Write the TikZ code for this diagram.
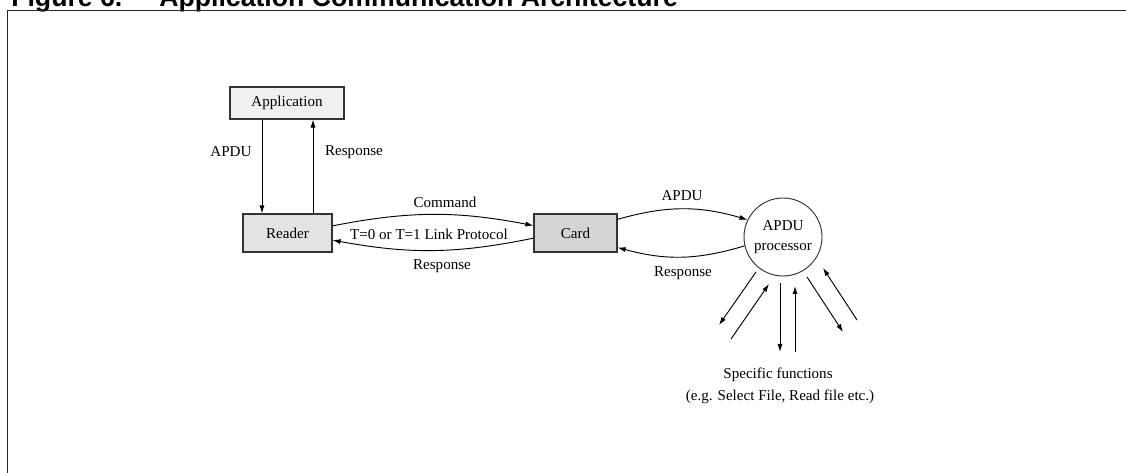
\documentclass[tikz,border=0pt]{standalone}
\usepackage{fontspec}
\setmainfont{Liberation Serif}
\newfontfamily\headfont{Liberation Sans}
\usetikzlibrary{positioning,arrows.meta,calc}

\begin{document}
\begin{tikzpicture}[x=0.75pt,y=-0.75pt,
    >={Latex[length=6pt,width=3.8pt]},
    lbl/.style={font=\fontsize{11.3}{13}\selectfont,inner sep=0pt},
    box/.style={lbl,draw=black!80,line width=0.9pt,minimum height=28.5pt},
    head/.style={anchor=base west,inner sep=0pt,font=\headfont\bfseries\fontsize{20}{22}\selectfont},
    link/.style={->,line width=0.7pt}]
  \useasboundingbox (0,0) rectangle (1126,473);
  \begin{scope}
    \clip (0,0) rectangle (1126,473);
    \node[head] (fig) at (11,7) {Figure 6.};
    \node[head] (title) at (159,7) {Application Communication Architecture};
  \end{scope}
  \draw[line width=1.1pt,black!85] (7.5,473) -- (7.5,10.5) -- (1126,10.5);

  \node[box,fill=black!6,minimum width=85.5pt,minimum height=24pt] (app) at (287,103) {Application};
  \node[box,fill=black!11,minimum width=66.75pt] (reader) at (287.5,233) {Reader};
  \node[box,fill=black!17,minimum width=62.25pt] (card) at (575.5,233) {Card};
  \node[circle,draw=black!80,line width=0.7pt,minimum size=58.5pt,inner sep=0pt,align=center,
        font=\fontsize{11.3}{15}\selectfont] (proc) at (783,237) {APDU\\processor};

  \draw[link] ($(app.south)+(-25,0)$) -- ($(reader.north)+(-25.5,0)$);
  \draw[link] ($(reader.north)+(25.5,0)$) -- ($(app.south)+(26,0)$);
  \node[lbl] (apduA) at (231,152) {APDU};
  \node[lbl] (respA) at (354,152) {Response};

  \draw[link] (reader.9) to[bend left=11] (card.170);
  \draw[link] (card.187) to[bend left=11] (reader.351);
  \node[lbl] (cmd) at (445,202) {Command};
  \node[lbl] (proto) at (429,234) {T=0 or T=1 Link Protocol};
  \node[lbl] (respB) at (442,266) {Response};

  \draw[link] (card.18) to[bend left=16] (proc.154);
  \draw[link] (proc.193) to[bend left=16] (card.341);
  \node[lbl] (apduB) at (682,196) {APDU};
  \node[lbl] (respC) at (683,273) {Response};

  \coordinate (a1) at ($(proc.center)+(-27,35)$);
  \coordinate (f1) at ($(proc.center)+(-64,88)$);
  \coordinate (a2) at ($(proc.center)+(-14,47)$);
  \coordinate (f2) at ($(proc.center)+(-52,102)$);
  \coordinate (a3) at ($(proc.center)+(-3,46)$);
  \coordinate (f3) at ($(proc.center)+(-3,115)$);
  \coordinate (a4) at ($(proc.center)+(12,49)$);
  \coordinate (f4) at ($(proc.center)+(12,115)$);
  \coordinate (a5) at ($(proc.center)+(24,40)$);
  \coordinate (f5) at ($(proc.center)+(60,95)$);
  \coordinate (a6) at ($(proc.center)+(40,31)$);
  \coordinate (f6) at ($(proc.center)+(74,83)$);
  \draw[link] (a1) -- (f1);
  \draw[link] (f2) -- (a2);
  \draw[link] (a3) -- (f3);
  \draw[link] (f4) -- (a4);
  \draw[link] (a5) -- (f5);
  \draw[link] (f6) -- (a6);

  \node[lbl] (spec) at (778,375) {Specific functions};
  \node[lbl] (specex) at (780,397) {(e.g. Select File, Read file etc.)};
\end{tikzpicture}
\end{document}
